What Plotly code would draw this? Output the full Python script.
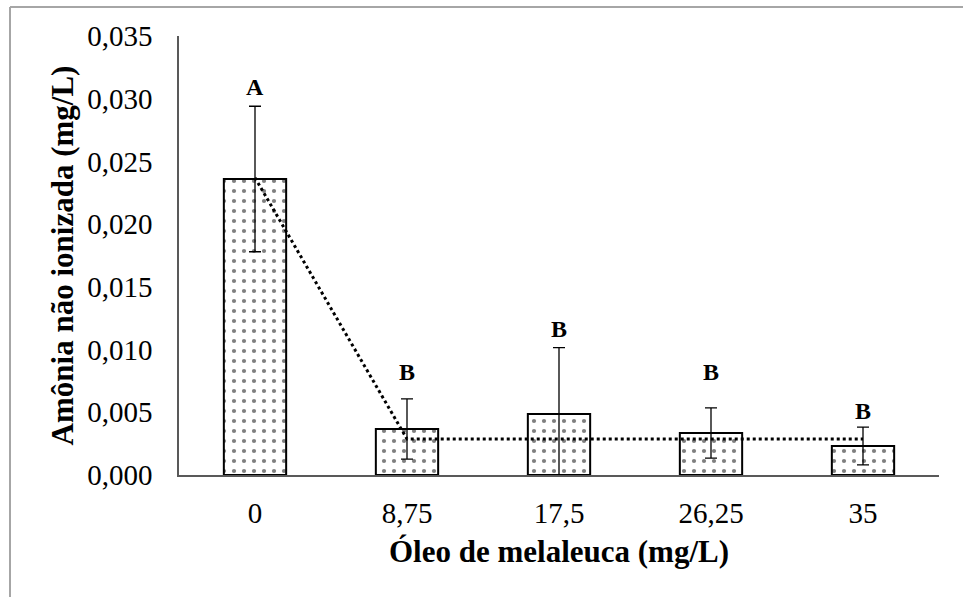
import plotly.graph_objects as go

# Treatment doses and measured un-ionized ammonia
doses = ["0", "8,75", "17,5", "26,25", "35"]
ammonia_mean = [0.0236, 0.00367, 0.00486, 0.00335, 0.00231]
ammonia_sd = [0.0058, 0.0024, 0.0053, 0.0020, 0.0015]
groups = ["A", "B", "B", "B", "B"]
# Fitted broken-line response
trend = [0.0237, 0.00287, 0.00287, 0.00287, 0.00287]

y_ticks = [0.0, 0.005, 0.010, 0.015, 0.020, 0.025, 0.030, 0.035]
y_tick_text = ["0,000", "0,005", "0,010", "0,015", "0,020", "0,025", "0,030", "0,035"]

FONT = "Times New Roman, Liberation Serif, serif"

fig = go.Figure()

fig.add_trace(go.Bar(
    x=doses,
    y=ammonia_mean,
    marker=dict(
        color="white",
        line=dict(color="black", width=2),
        pattern=dict(shape=".", fgcolor="black", bgcolor="white", size=10, solidity=0.14),
    ),
    error_y=dict(type="data", array=ammonia_sd, visible=True,
                 color="black", thickness=1.3, width=6),
    showlegend=False,
))

fig.add_trace(go.Scatter(
    x=doses,
    y=trend,
    mode="lines",
    line=dict(color="black", width=3, dash="3px,3px"),
    showlegend=False,
))

# Significance letters above each error bar (x given as category index)
label_lift = [8, 16, 8, 25, 5]
for i, (m, s, g, lift) in enumerate(zip(ammonia_mean, ammonia_sd, groups, label_lift)):
    fig.add_annotation(
        x=i, y=m + s, text=f"<b>{g}</b>", showarrow=False,
        yanchor="bottom", yshift=lift - 4,
        font=dict(family=FONT, size=24, color="black"),
    )

# Outer frame of the figure
fig.add_shape(type="line", xref="paper", yref="paper",
              x0=(10 - 179) / 760, x1=1.2, y0=(475 - 7) / 439, y1=(475 - 7) / 439,
              line=dict(color="#a6a6a6", width=2))
fig.add_shape(type="line", xref="paper", yref="paper",
              x0=(10 - 179) / 760, x1=(10 - 179) / 760, y0=(475 - 7) / 439, y1=-0.5,
              line=dict(color="#a6a6a6", width=2))

fig.update_layout(
    width=963, height=597,
    margin=dict(l=179, r=24, t=36, b=122),
    paper_bgcolor="white", plot_bgcolor="white",
    bargap=0.59,
    font=dict(family=FONT, color="black"),
    xaxis=dict(
        type="category", range=[-0.5, 4.5],
        showline=True, linecolor="#595959", linewidth=1.5,
        showgrid=False, zeroline=False, ticks="",
        tickfont=dict(family=FONT, size=29, color="black"),
        ticklabelstandoff=11,
        title=dict(text="<b>Óleo de melaleuca (mg/L)</b>",
                   font=dict(family=FONT, size=31, color="black"), standoff=13),
    ),
    yaxis=dict(
        range=[0, 0.035], showline=True, linecolor="#595959", linewidth=1.5,
        showgrid=False, zeroline=False, ticks="",
        tickvals=y_ticks, ticktext=y_tick_text,
        tickfont=dict(family=FONT, size=29, color="black"),
        ticklabelstandoff=19,
        title=dict(text="<b>Amônia não ionizada (mg/L)</b>",
                   font=dict(family=FONT, size=31, color="black"), standoff=4),
    ),
)

fig.write_html("out.html")
